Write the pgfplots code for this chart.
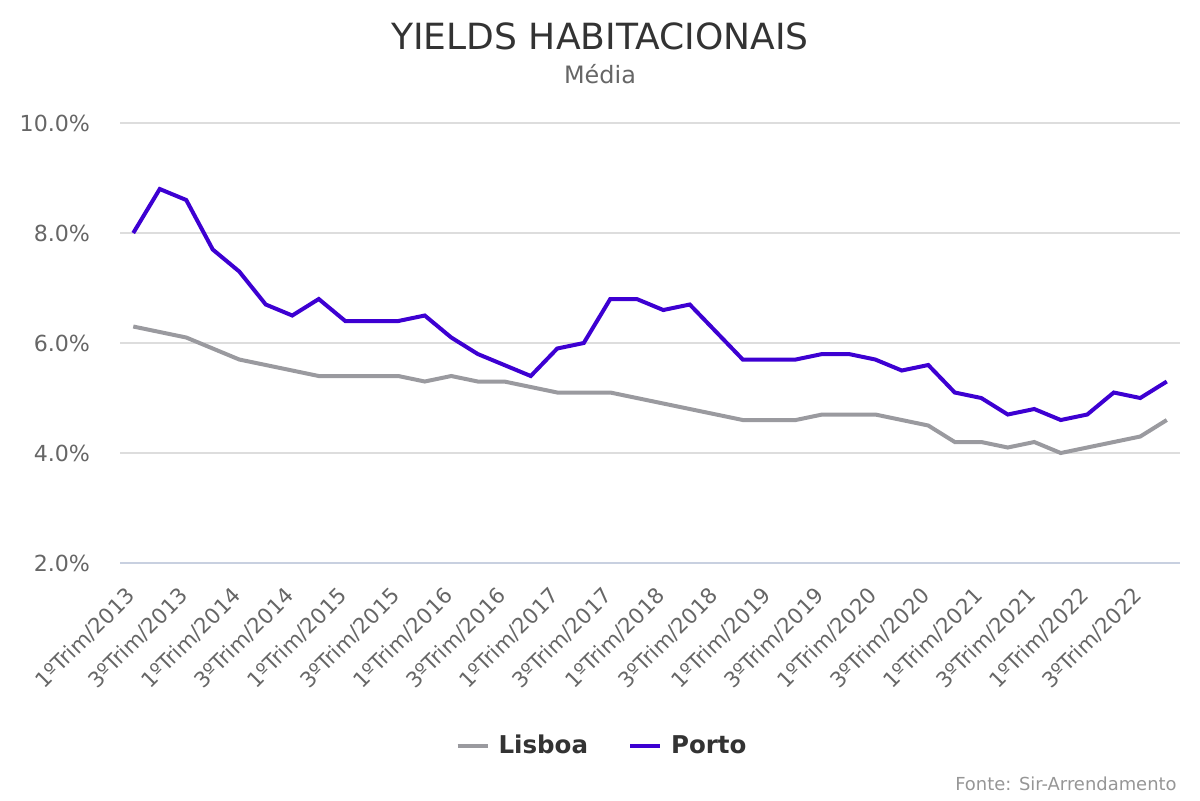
\documentclass[border=0pt]{standalone}
\usepackage{pgfplots}
\pgfplotsset{compat=1.18}
\usepackage{fontspec}
\setmainfont{DejaVu Sans}
\definecolor{porto}{HTML}{3D00D2}
\definecolor{lisboa}{HTML}{9A9A9F}
\definecolor{gridc}{HTML}{DDDDDD}
\definecolor{txt}{HTML}{666666}
\definecolor{ttl}{HTML}{333333}
\begin{document}
\begin{tikzpicture}[x=1bp,y=1bp]
\useasboundingbox (0,0) rectangle (600,400);
\begin{axis}[
  at={(60bp,118.5bp)}, anchor=south west,
  scale only axis, width=530bp, height=220bp,
  xmin=-0.5, xmax=39.5, ymin=2, ymax=10,
  axis line style={draw=none},
  ytick={2,4,6,8,10},
  ymajorgrids, grid style={gridc, line width=0.6bp},
  xtick={0,2,...,38},
  xticklabels={1ºTrim/2013,3ºTrim/2013,1ºTrim/2014,3ºTrim/2014,1ºTrim/2015,3ºTrim/2015,1ºTrim/2016,3ºTrim/2016,1ºTrim/2017,3ºTrim/2017,1ºTrim/2018,3ºTrim/2018,1ºTrim/2019,3ºTrim/2019,1ºTrim/2020,3ºTrim/2020,1ºTrim/2021,3ºTrim/2021,1ºTrim/2022,3ºTrim/2022},
  xticklabel style={xshift=-4.2bp, yshift=-9.7bp, rotate=45, anchor=north east, font=\fontsize{10.7}{12}\selectfont, text=txt, inner sep=1bp},
  yticklabel={\pgfmathprintnumber[fixed,fixed zerofill,precision=1]{\tick}\%},
  /pgf/number format/assume math mode=true,
  yticklabel style={font=\fontsize{11.1}{13}\selectfont, text=txt, xshift=-11.5bp},
  tick style={draw=none},
  legend style={at={(0.4557,-0.415)}, anchor=center, draw=none, legend columns=2, font=\fontsize{12.3}{14}\selectfont\bfseries, text=ttl, /tikz/every even column/.append style={column sep=18bp}},
  legend image code/.code={\draw[#1, line width=2bp] (0bp,0bp) -- (15bp,0bp); \path (17.5bp,0bp);},
]
\draw[color={rgb,255:red,200;green,208;blue,224}, line width=0.8bp] (axis cs:-0.5,2) -- (axis cs:39.5,2);
\addplot[lisboa, line width=2bp] coordinates {
(0,6.3)(1,6.2)(2,6.1)(3,5.9)(4,5.7)(5,5.6)(6,5.5)(7,5.4)(8,5.4)(9,5.4)
(10,5.4)(11,5.3)(12,5.4)(13,5.3)(14,5.3)(15,5.2)(16,5.1)(17,5.1)(18,5.1)(19,5.0)
(20,4.9)(21,4.8)(22,4.7)(23,4.6)(24,4.6)(25,4.6)(26,4.7)(27,4.7)(28,4.7)(29,4.6)
(30,4.5)(31,4.2)(32,4.2)(33,4.1)(34,4.2)(35,4.0)(36,4.1)(37,4.2)(38,4.3)(39,4.6)};
\addlegendentry{Lisboa}
\addplot[porto, line width=2bp] coordinates {
(0,8.0)(1,8.8)(2,8.6)(3,7.7)(4,7.3)(5,6.7)(6,6.5)(7,6.8)(8,6.4)(9,6.4)
(10,6.4)(11,6.5)(12,6.1)(13,5.8)(14,5.6)(15,5.4)(16,5.9)(17,6.0)(18,6.8)(19,6.8)
(20,6.6)(21,6.7)(22,6.2)(23,5.7)(24,5.7)(25,5.7)(26,5.8)(27,5.8)(28,5.7)(29,5.5)
(30,5.6)(31,5.1)(32,5.0)(33,4.7)(34,4.8)(35,4.6)(36,4.7)(37,5.1)(38,5.0)(39,5.3)};
\addlegendentry{Porto}
\end{axis}
\node[font=\fontsize{18.1}{22}\selectfont, text=ttl] at (300,382) {YIELDS HABITACIONAIS};
\node[font=\fontsize{12}{14}\selectfont, text=txt] at (300,363) {Média};
\node[font=\fontsize{9}{11}\selectfont, text={rgb,255:red,150;green,150;blue,150}, anchor=east, inner sep=0pt] at (588.5,8) {Fonte: Sir-Arrendamento};
\end{tikzpicture}
\end{document}
